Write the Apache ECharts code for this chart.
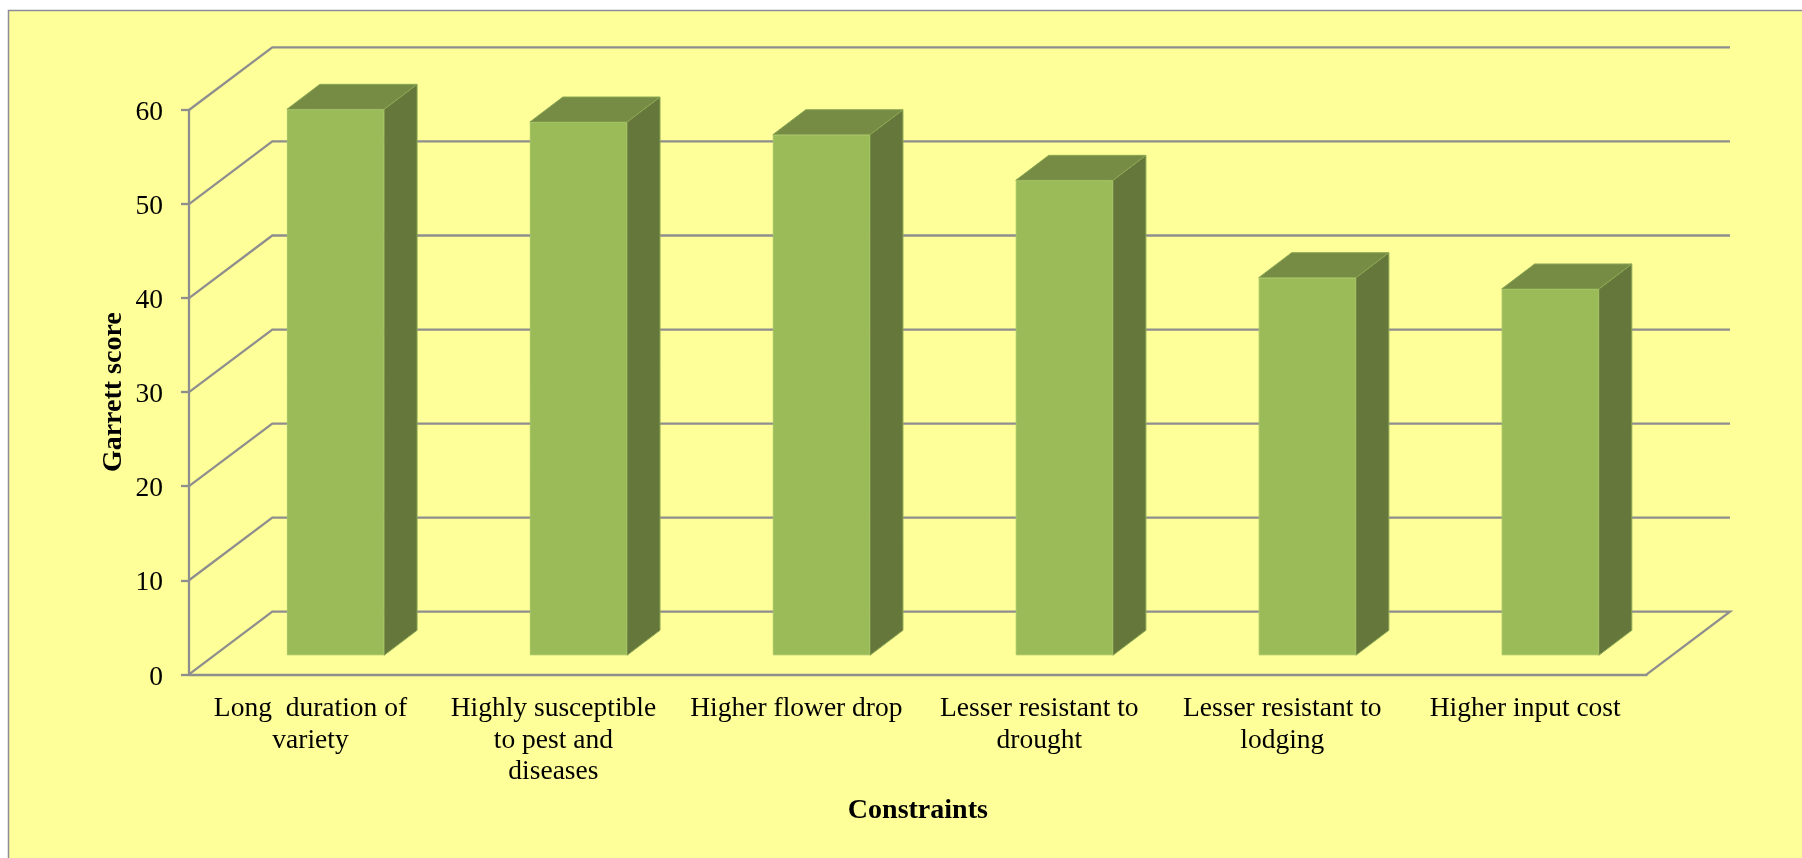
<!DOCTYPE html>
<html>
<head>
<meta charset="utf-8">
<title>Garrett score by constraint</title>
<script src="https://cdn.jsdelivr.net/npm/echarts@6/dist/echarts.min.js"></script>
<style>
  html, body { margin: 0; padding: 0; background: #ffffff; }
  #chart { width: 1802px; height: 858px; }
</style>
</head>
<body>
<div id="chart"></div>
<script>
// Constraint categories, with the line breaks used on the axis
const categories = [
  'Long  duration of\nvariety',
  'Highly susceptible\nto pest and\ndiseases',
  'Higher flower drop',
  'Lesser resistant to\ndrought',
  'Lesser resistant to\nlodging',
  'Higher input cost'
];
const garrettScores = [58.05, 56.7, 55.35, 50.5, 40.15, 38.95];
const valueTicks = [0, 10, 20, 30, 40, 50, 60];

// Oblique projection used for the pseudo-3D look (pixels)
const WALL_DX = 83.3, WALL_DY = 62.6;     // front of floor to back wall
const BAR_DX = 25, BAR_DY = 19;           // front of floor to front of bar
const DEPTH_DX = 33, DEPTH_DY = 25;       // front of bar to back of bar

const FONT = '"Liberation Serif", serif';
const LINE = '#8e8e8e';
const LINE_WIDTH = 2.3;
const FACE = '#9bbb59', SIDE = '#65773a', TOP = '#768c44';

function wallItem(params, api) {
  const v = api.value(1);
  const sys = params.coordSys;
  const y = api.coord([0, v])[1];
  const x0 = sys.x, x1 = sys.x + sys.width;
  const style = { stroke: LINE, lineWidth: LINE_WIDTH, fill: 'none' };
  const points = [[x0, y], [x0 + WALL_DX, y - WALL_DY], [x1 + WALL_DX, y - WALL_DY]];
  if (v === 0) points.push([x1, y]);
  return { type: 'polyline', shape: { points }, style };
}

function barItem(params, api) {
  const idx = api.value(0);
  const base = api.coord([idx, 0]);
  const top = api.coord([idx, api.value(1)]);
  const w = api.size([1, 0])[0] * 0.4;
  const xl = base[0] + BAR_DX - w / 2, xr = xl + w;
  const yb = base[1] - BAR_DY, yt = top[1] - BAR_DY;
  const edge = { stroke: '#8aa653', lineWidth: 1 };
  return {
    type: 'group',
    children: [
      {
        type: 'polygon',
        shape: { points: [[xr, yb], [xr + DEPTH_DX, yb - DEPTH_DY], [xr + DEPTH_DX, yt - DEPTH_DY], [xr, yt]] },
        style: Object.assign({ fill: SIDE }, edge)
      },
      {
        type: 'polygon',
        shape: { points: [[xl, yt], [xl + DEPTH_DX, yt - DEPTH_DY], [xr + DEPTH_DX, yt - DEPTH_DY], [xr, yt]] },
        style: Object.assign({ fill: TOP }, edge)
      },
      {
        type: 'rect',
        shape: { x: xl + 0.5, y: yt + 0.5, width: w - 1, height: yb - yt - 1 },
        style: { fill: FACE, stroke: '#a3c264', lineWidth: 1 }
      }
    ]
  };
}

const chart = echarts.init(document.getElementById('chart'), null, { renderer: 'canvas' });
chart.setOption({
  animation: false,
  backgroundColor: '#ffffff',
  textStyle: { fontFamily: FONT },
  graphic: [{
    type: 'rect',
    z: -10,
    shape: { x: 8.5, y: 10.5, width: 1810, height: 860 },
    style: { fill: '#ffff99', stroke: '#8c8c9c', lineWidth: 1.5 }
  }],
  grid: { left: 189, right: 155.3, top: 110, bottom: 183.7, containLabel: false },
  xAxis: {
    type: 'category',
    data: categories,
    axisLine: { show: true, lineStyle: { color: LINE, width: LINE_WIDTH } },
    axisTick: { show: false },
    splitLine: { show: false },
    axisLabel: {
      interval: 0,
      margin: 19,
      color: '#000000',
      fontFamily: FONT,
      fontSize: 27.5,
      lineHeight: 31.5,
      verticalAlign: 'top'
    },
    name: 'Constraints',
    nameLocation: 'middle',
    nameGap: 122,
    nameMoveOverlap: false,
    nameTextStyle: { color: '#000000', fontFamily: FONT, fontSize: 28, fontWeight: 'bold' }
  },
  yAxis: {
    type: 'value',
    min: 0,
    max: 60,
    interval: 10,
    axisLine: { show: true, lineStyle: { color: LINE, width: LINE_WIDTH } },
    axisTick: { show: true, length: 8, lineStyle: { color: LINE, width: LINE_WIDTH } },
    splitLine: { show: false },
    axisLabel: {
      margin: 26,
      color: '#000000',
      fontFamily: FONT,
      fontSize: 27.5,
      verticalAlign: 'top',
      lineHeight: 6,
      formatter: (v) => String(v)
    },
    name: 'Garrett score',
    nameLocation: 'middle',
    nameGap: 61,
    nameMoveOverlap: false,
    nameRotate: 90,
    nameTextStyle: { color: '#000000', fontFamily: FONT, fontSize: 28, fontWeight: 'bold' }
  },
  series: [
    {
      // Back wall rules, side wall diagonals and floor outline
      type: 'custom',
      z: 1,
      silent: true,
      renderItem: wallItem,
      encode: { x: 0, y: 1 },
      data: valueTicks.map((v) => [0, v])
    },
    {
      type: 'custom',
      name: 'Garrett score',
      z: 2,
      renderItem: barItem,
      encode: { x: 0, y: 1 },
      data: garrettScores.map((v, i) => [i, v])
    }
  ]
});
</script>
</body>
</html>
